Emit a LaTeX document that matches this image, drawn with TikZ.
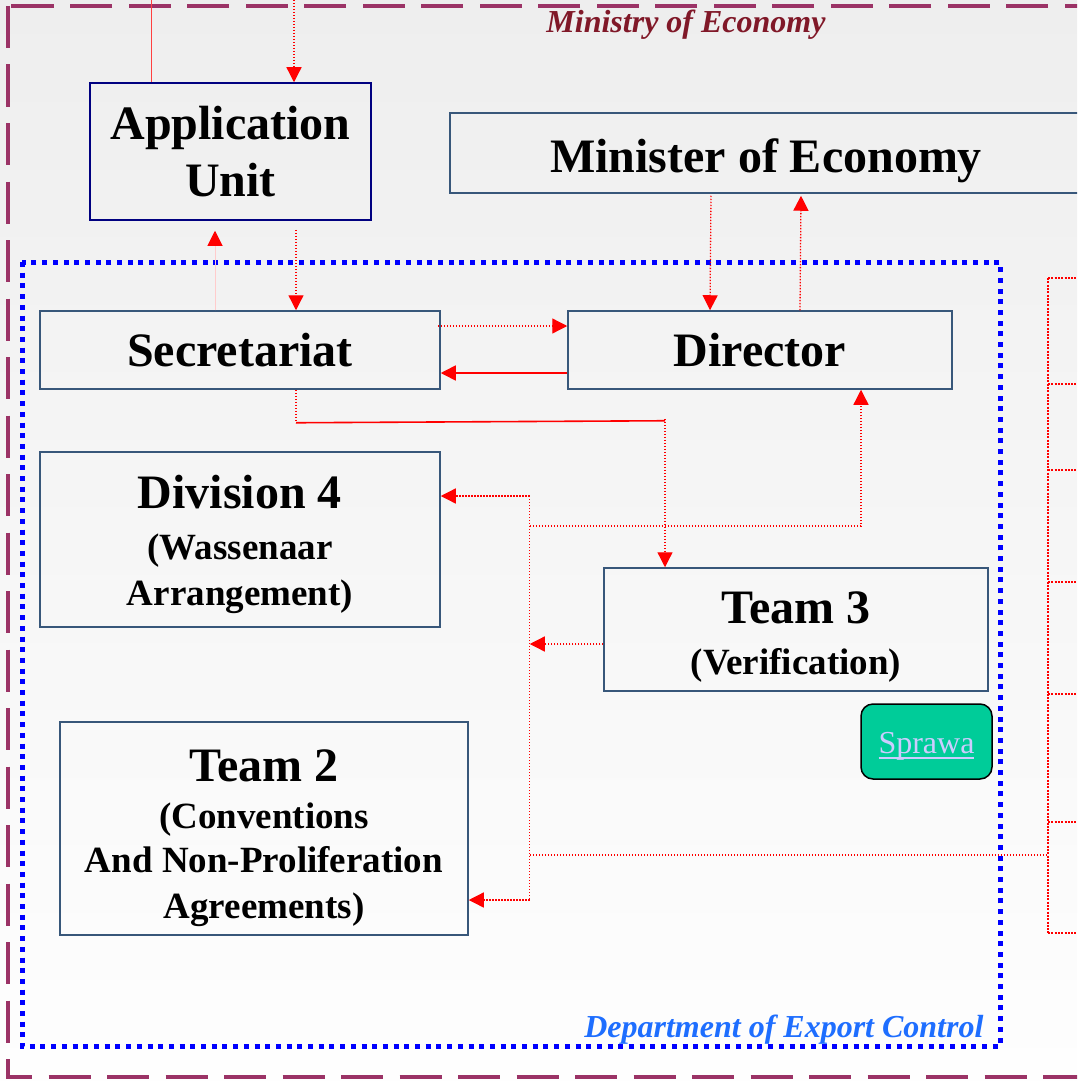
\documentclass[tikz,border=0pt]{standalone}
\usepackage{fontspec}
\setmainfont{Liberation Serif}
\usetikzlibrary{arrows.meta}

\definecolor{ministryline}{RGB}{155,51,102}
\definecolor{ministrytext}{RGB}{128,24,40}
\definecolor{depttext}{RGB}{30,110,255}
\definecolor{boxblue}{RGB}{56,87,122}
\definecolor{unitnavy}{RGB}{0,0,128}
\definecolor{sprawafill}{RGB}{0,204,153}
\definecolor{sprawatext}{RGB}{204,204,255}
\definecolor{bgtop}{RGB}{238,238,238}
\definecolor{bgbottom}{RGB}{254,254,254}

\newcommand\titlefont{\fontsize{48}{46}\selectfont\bfseries}
\newcommand\subfont{\fontsize{37}{46}\selectfont\bfseries}
\newcommand\ulink[1]{\setbox0\hbox{#1}\rlap{\rule[-5pt]{\wd0}{1.5pt}}\box0}

\begin{document}
\begin{tikzpicture}[x=1pt, y=-1pt,
    orgbox/.style={draw=boxblue, line width=1.5pt, inner sep=0pt,
        align=center, font=\titlefont},
    boxlabel/.style={align=center, font=\titlefont, inner sep=0pt},
    flowline/.style={draw=red, line width=1.3pt,
        dash pattern=on 1.4pt off 1.6pt},
    solidline/.style={draw=red, line width=1.6pt},
    busline/.style={draw=red, line width=2pt,
        dash pattern=on 2pt off 1.3pt},
    withtip/.style={-{Triangle[length=15pt, width=15pt, color=red]}},
    ]

    \clip (0,0) rectangle (1077,1081);
    \shade[top color=bgtop, bottom color=bgbottom] (0,0) rectangle (1077,1081);

    % frames
    \draw[ministryline, line width=4.5pt, dash pattern=on 42pt off 16.5pt]
    (8,6) rectangle (1095,1077);
    \draw[blue, line width=5pt, dash pattern=on 5pt off 5.7pt]
    (22,262) rectangle (1000,1046);

    \node[font=\fontsize{32}{36}\selectfont\bfseries\itshape,
    text=ministrytext, anchor=base] (ministry) at (686,33)
    {Ministry of Economy};
    \node[font=\fontsize{32}{36}\selectfont\bfseries\itshape,
    text=depttext, anchor=base east] (dept) at (987,1037)
    {Department of Export Control};

    % boxes
    \node[orgbox, draw=unitnavy, minimum width=281pt, minimum height=137pt,
    font=\fontsize{48}{57}\selectfont\bfseries]
    (appunit) at (230.5,151.5) {Application\\ Unit};

    \node[orgbox, minimum width=632pt, minimum height=80pt]
    (minister) at (766,153)
    {\raisebox{-8pt}[\height][\depth]{Minister of Economy}};

    \node[orgbox, minimum width=400pt, minimum height=78pt]
    (secretariat) at (240,350) {Secretariat};

    \node[orgbox, minimum width=384pt, minimum height=78pt]
    (director) at (760,350) {Director};

    \node[orgbox, minimum width=400pt, minimum height=175pt,
    label={[boxlabel, yshift=-5pt]center:{Division 4\\[5pt] \subfont
            (Wassenaar\\ \subfont Arrangement)}}]
    (division) at (240,539.5) {};

    \node[orgbox, minimum width=384pt, minimum height=123pt,
    label={[boxlabel, yshift=-8pt]center:{Team 3\\[5pt] \subfont
            (Verification)}}]
    (team3) at (796,629.5) {};

    \node[orgbox, minimum width=408pt, minimum height=213pt,
    label={[boxlabel, yshift=-10pt]center:{Team 2\\[1pt] \subfont
            (Conventions\\[-2pt] \subfont And Non-Proliferation\\ \subfont
            Agreements)}}]
    (team2) at (264,828.5) {};

    \node[draw=black, line width=1.5pt, fill=sprawafill, rounded corners=12pt,
    minimum width=131pt, minimum height=75pt, text=sprawatext,
    font=\fontsize{32}{36}\selectfont] (sprawa) at (926.5,741.5)
    {\raisebox{-5pt}[\height][\depth]{\ulink{Sprawa}}};

    % links to the application unit
    \coordinate (inleft) at (151,0);
    \coordinate (inright) at (294,0);
    \draw[red!75, line width=0.6pt] (inleft) -- (inleft |- appunit.north);
    \draw[flowline, withtip] (inright) -- (inright |- appunit.north);

    \draw[red!20, line width=1pt, withtip] ([xshift=-25pt]secretariat.north)
    -- ([xshift=-15.5pt, yshift=-10pt]appunit.south);
    \draw[flowline, withtip] ([xshift=65.5pt, yshift=-9pt]appunit.south)
    -- ([xshift=56pt]secretariat.north);

    % minister and director
    \draw[flowline, withtip] ([xshift=-55pt, yshift=-2pt]minister.south)
    -- ([xshift=-50pt]director.north);
    \draw[flowline, withtip] ([xshift=40pt]director.north)
    -- ([xshift=35pt, yshift=-2pt]minister.south);

    % secretariat and director
    \draw[flowline, withtip] ([xshift=-3pt, yshift=24pt]secretariat.east)
    -- ([yshift=24pt]director.west);
    \draw[solidline, withtip] ([yshift=-23pt]director.west)
    -- ([yshift=-23pt]secretariat.east);

    % secretariat to team 3
    \coordinate (bendsec) at ([xshift=56pt, yshift=-33pt]secretariat.south);
    \coordinate (teamthreein) at ([xshift=-131pt]team3.north);
    \draw[flowline] ([xshift=56pt]secretariat.south) -- (bendsec);
    \draw[solidline] (bendsec) -- ([yshift=2pt]bendsec -| teamthreein);
    \draw[flowline, withtip] ([yshift=4pt]bendsec -| teamthreein)
    -- (teamthreein);

    % trunk between the divisions
    \coordinate (divin) at ([yshift=43.5pt]division.east);
    \coordinate (trunktop) at ([xshift=89pt]divin);
    \coordinate (teamtwoin) at ([yshift=-71.5pt]team2.east);
    \coordinate (trunkbot) at (teamtwoin -| trunktop);
    \coordinate (dirin) at ([xshift=101pt]director.south);
    \coordinate (teamthreeout) at ([yshift=-14.5pt]team3.west);

    \draw[flowline, withtip] (trunktop) -- (divin);
    \draw[flowline] (trunktop) -- (trunkbot);
    \draw[flowline, withtip] (trunkbot) -- (teamtwoin);
    \draw[flowline, withtip] ([yshift=-30pt]trunktop) -| (dirin);
    \draw[flowline, withtip] (teamthreeout) -- (teamthreeout -| trunktop);

    % bus on the right
    \coordinate (bustop) at (1048,278);
    \coordinate (busbot) at (1048,933);
    \draw[busline] (bustop) -- (busbot);
    \foreach \y in {278,384,470,582,694,822,933}
    \draw[busline] (bustop |- 0,\y) -- (1090,\y);
    \draw[flowline] (trunktop |- 0,855) -- (bustop |- 0,855);
\end{tikzpicture}
\end{document}
